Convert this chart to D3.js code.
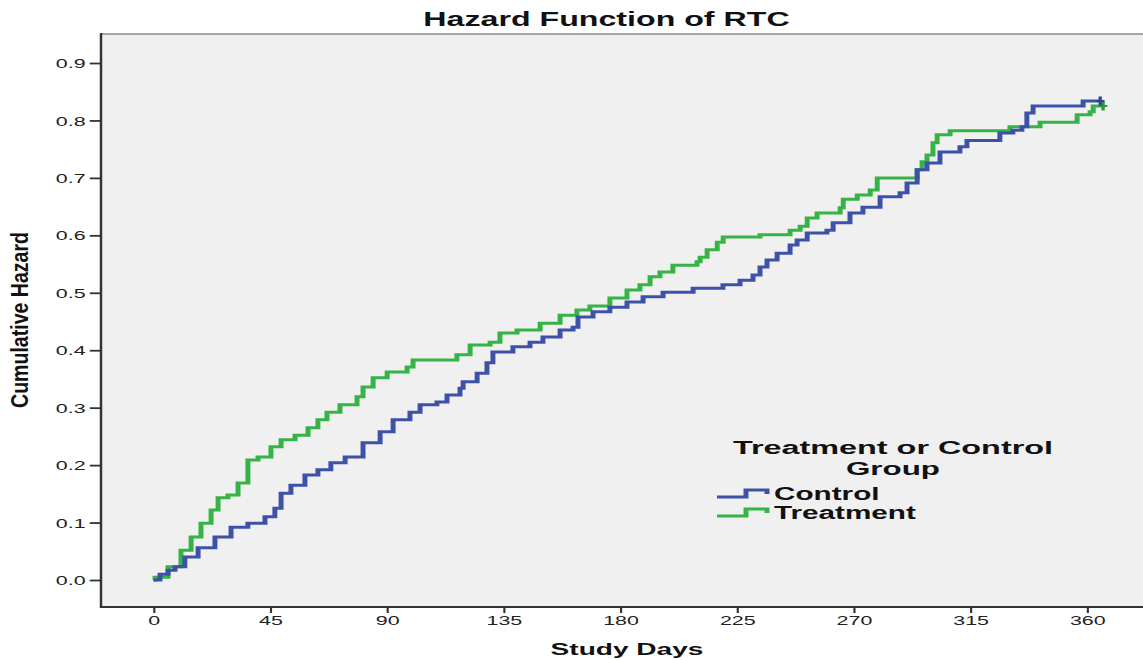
<!DOCTYPE html>
<html><head><meta charset="utf-8">
<script src="https://cdn.jsdelivr.net/npm/d3@7"></script>
<style>html,body{margin:0;padding:0;background:#fff;} svg{display:block;}</style>
</head><body>
<svg id="chart" width="1143" height="660"></svg>
<script>
// ---------------- data ----------------
const chartTitle = "Hazard Function of RTC";
const xAxisTitle = "Study Days";
const yAxisTitle = "Cumulative Hazard";
const legendTitle = ["Treatment or Control", "Group"];
const seriesNames = ["Control", "Treatment"];
const xTickValues = [0, 45, 90, 135, 180, 225, 270, 315, 360];
const yTickValues = [0.0, 0.1, 0.2, 0.3, 0.4, 0.5, 0.6, 0.7, 0.8, 0.9];

const controlDays = [0, 2.5, 5.6, 8.3, 12.1, 17.2, 23.7, 29.9, 36.4, 43.0,
  46.8, 49.2, 53.0, 58.4, 63.4, 68.4, 73.9, 80.8, 87.4, 92.4,
  98.9, 102.8, 109.3, 113.2, 118.2, 119.4, 124.8, 128.6, 130.9, 138.6,
  145.2, 150.2, 156.8, 161.8, 163.7, 169.5, 176.0, 182.6, 188.8, 196.5,
  208.1, 219.6, 226.2, 231.2, 233.9, 236.6, 240.5, 245.5, 248.2, 252.1,
  259.7, 262.1, 268.6, 273.6, 280.2, 287.9, 290.6, 294.5, 298.3, 303.3,
  311.0, 313.7, 326.4, 331.4, 334.9, 336.8, 339.2, 358.5, 365.1];
const controlHazard = [0, .010, .017, .023, .040, .056, .075, .092, .099, .110,
  .125, .151, .165, .183, .192, .204, .214, .239, .258, .279,
  .292, .305, .310, .322, .334, .345, .360, .378, .397, .406,
  .414, .423, .435, .440, .458, .467, .475, .484, .493, .501,
  .508, .514, .522, .531, .545, .557, .569, .583, .592, .604,
  .609, .622, .639, .649, .667, .674, .691, .714, .726, .745,
  .754, .765, .778, .783, .789, .813, .825, .834, .834];

const treatmentDays = [0, 0.6, 5.6, 10.6, 14.5, 18.3, 22.2, 24.9, 28.7, 32.6,
  36.4, 40.3, 45.3, 49.2, 54.6, 59.6, 63.4, 66.9, 71.9, 78.5,
  80.8, 84.7, 90.1, 97.8, 100.1, 117.0, 122.1, 129.8, 133.6, 140.2,
  149.1, 156.8, 163.3, 168.3, 176.0, 182.6, 187.6, 191.5, 195.3, 200.3,
  209.6, 210.8, 213.5, 217.4, 219.7, 233.9, 245.5, 249.4, 252.1, 255.9,
  264.8, 266.0, 271.4, 276.4, 279.1, 294.5, 296.4, 298.3, 300.6, 302.2,
  307.2, 330.3, 341.9, 356.2, 361.2, 362.4, 366.2];
const treatmentHazard = [0, .005, .023, .052, .075, .099, .122, .143, .148, .169,
  .209, .214, .232, .244, .252, .265, .279, .292, .305, .319,
  .336, .352, .362, .371, .383, .392, .409, .414, .430, .435,
  .447, .461, .470, .477, .491, .505, .514, .528, .536, .548,
  .554, .562, .575, .588, .597, .601, .609, .616, .630, .639,
  .648, .663, .670, .679, .700, .714, .728, .740, .761, .775,
  .782, .789, .797, .810, .815, .825, .825];

const seriesColors = ["#3d51a8", "#35b345"];

// ---------------- layout ----------------
// the reference is a horizontally stretched SPSS chart; draw in a narrower
// coordinate space and stretch it to the window width
const SX = 1.65;
const W = 1143 / SX, H = 660;
const FONT = "'Liberation Sans', Arial, sans-serif";
const svg = d3.select("#chart")
  .attr("viewBox", `0 0 ${W} ${H}`)
  .attr("preserveAspectRatio", "none");

const plot = { left: 101 / SX, top: 34, right: W + 5, bottom: 607 };
const x = d3.scaleLinear().domain([0, 360]).range([153.5 / SX, 1087 / SX]);
const y = d3.scaleLinear().domain([0, 0.9]).range([580, 63]);

// plot background
svg.append("rect")
  .attr("x", plot.left).attr("y", plot.top)
  .attr("width", plot.right - plot.left).attr("height", plot.bottom - plot.top)
  .attr("fill", "#f0f0f0");

// top frame line
svg.append("line")
  .attr("x1", plot.left).attr("x2", plot.right)
  .attr("y1", plot.top).attr("y2", plot.top)
  .attr("stroke", "#8a8a8a").attr("stroke-width", 1.6);

// clip
svg.append("clipPath").attr("id", "clip").append("rect")
  .attr("x", plot.left).attr("y", plot.top)
  .attr("width", plot.right - plot.left).attr("height", plot.bottom - plot.top);

// ---------------- axes ----------------
const yAxis = d3.axisLeft(y).tickValues(yTickValues).tickFormat(d3.format(".1f"))
  .tickSize(6.8).tickPadding(2.5);
const gy = svg.append("g").attr("transform", `translate(${plot.left},0)`).call(yAxis);
gy.select(".domain").remove();
gy.selectAll(".tick line").attr("stroke", "#333").attr("stroke-width", 1.8);
gy.selectAll(".tick text").attr("font-family", FONT).attr("font-size", 13)
  .attr("fill", "#222").attr("dy", "0.35em");

const xAxis = d3.axisBottom(x).tickValues(xTickValues).tickFormat(d3.format("d"))
  .tickSize(6).tickPadding(3);
const gx = svg.append("g").attr("transform", `translate(0,${plot.bottom})`).call(xAxis);
gx.select(".domain").remove();
gx.selectAll(".tick line").attr("stroke", "#333").attr("stroke-width", 1.3);
gx.selectAll(".tick text").attr("font-family", FONT).attr("font-size", 13)
  .attr("fill", "#222");

// axis lines
svg.append("line")
  .attr("x1", plot.left).attr("x2", plot.left)
  .attr("y1", plot.top - 1).attr("y2", plot.bottom + 1)
  .attr("stroke", "#333").attr("stroke-width", 1.5);
svg.append("line")
  .attr("x1", plot.left).attr("x2", plot.right)
  .attr("y1", plot.bottom).attr("y2", plot.bottom)
  .attr("stroke", "#333").attr("stroke-width", 2);

// ---------------- series ----------------
const series = [
  { name: seriesNames[0], days: controlDays, hazard: controlHazard, color: seriesColors[0] },
  { name: seriesNames[1], days: treatmentDays, hazard: treatmentHazard, color: seriesColors[1] }
];
const line = d3.line()
  .x(d => x(d[0])).y(d => y(d[1]))
  .curve(d3.curveStepAfter);

const gLines = svg.append("g").attr("clip-path", "url(#clip)");
// draw treatment first, control on top
[series[1], series[0]].forEach(s => {
  const pts = s.days.map((d, i) => [d, s.hazard[i]]);
  gLines.append("path")
    .attr("d", line(pts))
    .attr("fill", "none")
    .attr("stroke", s.color)
    .attr("stroke-width", 3)
    .attr("stroke-linejoin", "miter");
  // censor mark at the end
  const last = pts[pts.length - 1];
  const cx = x(last[0]), cy = y(last[1]);
  gLines.append("path")
    .attr("d", `M${cx - 2.6},${cy}H${cx + 2.6}M${cx},${cy - 4.5}V${cy + 4.5}`)
    .attr("stroke", d3.color(s.color).darker(0.5))
    .attr("stroke-width", 2).attr("fill", "none");
});

// ---------------- titles ----------------
svg.append("text")
  .attr("x", 606.5 / SX).attr("y", 26)
  .attr("text-anchor", "middle")
  .attr("font-family", FONT).attr("font-weight", "bold").attr("font-size", 19.5)
  .attr("fill", "#111")
  .text(chartTitle);

svg.append("text")
  .attr("x", 627 / SX).attr("y", 655)
  .attr("text-anchor", "middle")
  .attr("font-family", FONT).attr("font-weight", "bold").attr("font-size", 17)
  .attr("fill", "#111")
  .text(xAxisTitle);

svg.append("text")
  .attr("transform", `translate(${28 / SX},320) rotate(-90)`)
  .attr("text-anchor", "middle")
  .attr("font-family", FONT).attr("font-weight", "bold").attr("font-size", 15)
  .attr("textLength", 176).attr("lengthAdjust", "spacingAndGlyphs")
  .attr("fill", "#111")
  .text(yAxisTitle);

// ---------------- legend ----------------
const lg = svg.append("g");
lg.append("text")
  .attr("x", 893 / SX).attr("y", 454)
  .attr("text-anchor", "middle")
  .attr("font-family", FONT).attr("font-weight", "bold").attr("font-size", 17.5)
  .attr("textLength", 194).attr("lengthAdjust", "spacingAndGlyphs")
  .attr("fill", "#111")
  .text(legendTitle[0]);
lg.append("text")
  .attr("x", 893 / SX).attr("y", 475)
  .attr("text-anchor", "middle")
  .attr("font-family", FONT).attr("font-weight", "bold").attr("font-size", 17.5)
  .attr("textLength", 57).attr("lengthAdjust", "spacingAndGlyphs")
  .attr("fill", "#111")
  .text(legendTitle[1]);

const legendRows = [497, 516];
series.forEach((s, i) => {
  const by = legendRows[i];
  const x0 = 717 / SX, xs = 746 / SX, x1 = 767 / SX;
  lg.append("path")
    .attr("d", `M${x0},${by}H${xs}V${by - 7}H${x1}V${by - 3}`)
    .attr("fill", "none").attr("stroke", s.color).attr("stroke-width", 3);
  lg.append("text")
    .attr("x", 774 / SX).attr("y", by + 3)
    .attr("font-family", FONT).attr("font-weight", "bold").attr("font-size", 18)
    .attr("fill", "#111")
    .text(s.name);
});
</script>
</body></html>
